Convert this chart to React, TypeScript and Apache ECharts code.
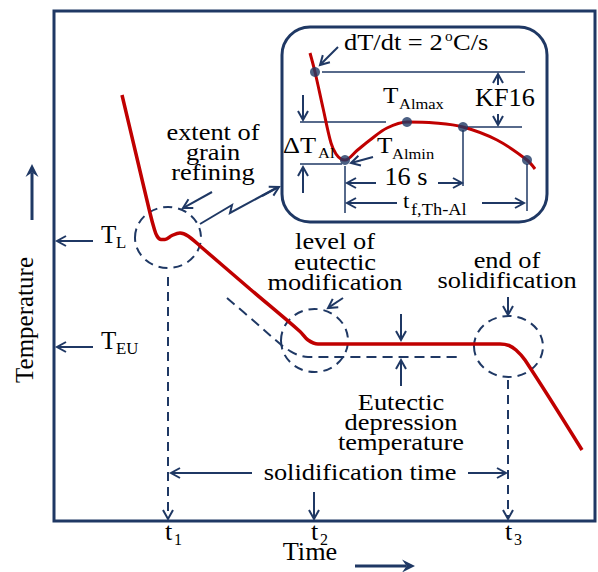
import React, { useEffect, useRef } from "react";
import * as echarts from "echarts";

const NAVY = "#1F3864";
const RED = "#C00000";
const INK = "#000000";
const FONT = "'Liberation Serif', 'Times New Roman', serif";

// Main cooling curve (arbitrary time / temperature units)
const curveTime = [68, 82, 96, 100, 103, 107, 111, 118, 126, 134, 146, 196, 246, 254, 264, 346, 446, 455, 462, 471, 528];
const curveTemp = [426, 367, 308, 293, 285, 281.5, 281.5, 285.5, 288, 285, 275, 232, 189.5, 181, 177, 177, 177, 175.5, 171, 161, 71];
// Eutectic depression (dashed) curve
const depressTime = [173, 201, 228, 236, 244, 254, 403];
const depressTemp = [223, 199, 175.5, 170, 166, 164, 164];
// Time ticks t1, t2, t3
const tickSubs = ["1", "2", "3"];
const tickTimes = [114, 260, 454];
// Temperature levels T_L, T_EU
const levelSubs = ["L", "EU"];
const levelTemps = [280, 174];
// Inset: thermal analysis detail
const insetTime = [28, 33, 41, 49, 54, 59, 63, 75, 88, 105, 125, 153, 181, 215, 245, 253];
const insetTemp = [169, 150, 114, 79, 68, 63, 62, 71.5, 82, 94, 100, 99, 95, 82, 62, 53];
const insetDotTime = [33, 63, 125, 181, 245];
const insetDotTemp = [150, 62, 100, 95, 62];

const zip = (a: number[], b: number[]) => a.map((v, i) => [v, b[i]]);

function arrowEls(x1: number, y1: number, x2: number, y2: number, w = 2, dash?: number[], head = 9, hw = 5) {
  const dx = x2 - x1, dy = y2 - y1;
  const len = Math.hypot(dx, dy);
  const ux = dx / len, uy = dy / len, px = -uy, py = ux;
  const bx = x2 - ux * head, by = y2 - uy * head;
  return [
    { type: "line", shape: { x1, y1, x2: x2 - ux, y2: y2 - uy }, style: { stroke: NAVY, lineWidth: w, lineDash: dash || null } },
    {
      type: "polyline",
      shape: { points: [[bx + px * hw, by + py * hw], [x2, y2], [bx - px * hw, by - py * hw]] },
      style: { stroke: NAVY, lineWidth: w, fill: "none" },
    },
  ];
}

function boldArrowEls(x1: number, y1: number, x2: number, y2: number) {
  const dx = x2 - x1, dy = y2 - y1;
  const len = Math.hypot(dx, dy);
  const ux = dx / len, uy = dy / len, px = -uy, py = ux;
  const head = 13, hw = 6.5;
  const bx = x2 - ux * head, by = y2 - uy * head;
  const nx = x2 - ux * head * 0.65, ny = y2 - uy * head * 0.65;
  return [
    { type: "line", shape: { x1, y1, x2: nx, y2: ny }, style: { stroke: NAVY, lineWidth: 3 } },
    {
      type: "polygon",
      shape: { points: [[x2, y2], [bx + px * hw, by + py * hw], [nx, ny], [bx - px * hw, by - py * hw]] },
      style: { fill: NAVY },
    },
  ];
}

function lineEl(x1: number, y1: number, x2: number, y2: number, w = 1.5) {
  return { type: "line", shape: { x1, y1, x2, y2 }, style: { stroke: NAVY, lineWidth: w } };
}

// y given as baseline
function txt(text: string, x: number, baseline: number, size: number, align = "center", sx = 1.1, rot = 0) {
  return {
    type: "text",
    x,
    y: rot ? baseline : baseline - 0.3375 * size,
    scaleX: sx,
    rotation: rot,
    z: 10,
    style: {
      text,
      x: 0,
      y: 0,
      fill: INK,
      fontSize: size,
      fontFamily: FONT,
      align,
      verticalAlign: "middle",
    },
  };
}

function ellipseEl(cx: number, cy: number, rx: number, ry: number) {
  return {
    type: "ellipse",
    shape: { cx, cy, rx, ry },
    style: { fill: "none", stroke: NAVY, lineWidth: 2, lineDash: [9, 6] },
  };
}

export default function App() {
  const ref = useRef<HTMLDivElement>(null);
  useEffect(() => {
    if (!ref.current) return;
    const chart = echarts.init(ref.current, null, { renderer: "svg" });
    chart.setOption({
      animation: false,
      backgroundColor: "#ffffff",
      grid: [
        { left: 54, top: 11, width: 541, height: 510, show: true, borderColor: NAVY, borderWidth: 3, backgroundColor: "transparent" },
        { left: 282, top: 27, width: 265, height: 195, show: false },
      ],
      xAxis: [
        { type: "value", gridIndex: 0, min: 0, max: 541, show: false },
        { type: "value", gridIndex: 1, min: 0, max: 265, show: false },
      ],
      yAxis: [
        { type: "value", gridIndex: 0, min: 0, max: 510, show: false },
        { type: "value", gridIndex: 1, min: 0, max: 195, show: false },
      ],
      series: [
        {
          type: "line",
          xAxisIndex: 0,
          yAxisIndex: 0,
          data: zip(curveTime, curveTemp),
          smooth: 0.35,
          symbol: "none",
          z: 5,
          lineStyle: { color: RED, width: 3.5 },
        },
        {
          type: "line",
          xAxisIndex: 0,
          yAxisIndex: 0,
          data: zip(depressTime, depressTemp),
          smooth: 0.35,
          symbol: "none",
          z: 4,
          lineStyle: { color: NAVY, width: 2, type: [10, 6] },
        },
        {
          type: "line",
          xAxisIndex: 1,
          yAxisIndex: 1,
          data: zip(insetTime, insetTemp),
          smooth: 0.35,
          symbol: "none",
          z: 5,
          lineStyle: { color: RED, width: 3 },
        },
        {
          type: "scatter",
          xAxisIndex: 1,
          yAxisIndex: 1,
          data: zip(insetDotTime, insetDotTemp),
          symbolSize: 10,
          z: 6,
          itemStyle: { color: NAVY },
        },
      ],
    });

    const toPx = (g: number, x: number, y: number) => chart.convertToPixel({ gridIndex: g }, [x, y]) as number[];
    const els: any[] = [];

    // inset frame
    els.push({ type: "rect", z: 0, shape: { x: 282, y: 27, width: 265, height: 195, r: 28 }, style: { fill: "#ffffff", stroke: NAVY, lineWidth: 3 } });

    // dashed circles
    els.push(ellipseEl(168, 237.5, 33, 30.5));
    els.push(ellipseEl(314.5, 340.5, 33.5, 31.5));
    els.push(ellipseEl(508.5, 346.5, 34.5, 30.5));

    // time ticks, drop lines and labels
    const startY = [277, 492, 380];
    const dashed = [true, false, true];
    const bottom = toPx(0, 0, 0)[1];
    tickTimes.forEach((t, i) => {
      const x = toPx(0, t, 0)[0];
      els.push(...arrowEls(x, startY[i], x, bottom - 2, 2, dashed[i] ? [9, 6] : undefined));
      els.push(txt("t", x - 3, 540, 25, "left", 1.05));
      els.push(txt(tickSubs[i], x + 6, 545, 16, "left", 1.0));
    });

    // temperature levels
    levelTemps.forEach((tv, i) => {
      const y = toPx(0, 0, tv)[1];
      els.push(...arrowEls(93, y, 57, y));
      els.push(txt("T", 101, y + 2, 25, "left", 1.0));
      els.push(txt(levelSubs[i], 116, y + 7, 16, "left", 1.05));
    });

    // axis titles
    els.push(txt("Temperature", 24, 320, 25, "center", 1.0, Math.PI / 2));
    els.push(...boldArrowEls(32, 220, 32, 164));
    els.push(txt("Time", 310, 560, 25, "center", 1.05));
    els.push(...boldArrowEls(355, 566, 415, 566));

    // annotations (main)
    els.push(txt("extent of", 213, 140, 24));
    els.push(txt("grain", 213, 160, 24));
    els.push(txt("refining", 213, 180, 24));
    els.push(...arrowEls(212, 192, 183, 208));
    // zig-zag link to inset
    els.push({ type: "polyline", shape: { points: [[200, 224], [232, 205], [230, 213], [278, 187]] }, style: { stroke: NAVY, lineWidth: 2, fill: "none" } });
    els.push(...arrowEls(262, 196, 279, 187));

    els.push(txt("level of", 335, 249, 24));
    els.push(txt("eutectic", 335, 270, 24));
    els.push(txt("modification", 335, 290, 24));
    els.push(...arrowEls(343, 298, 328, 308));

    els.push(txt("end of", 507, 268, 24));
    els.push(txt("solidification", 507, 288, 24));
    els.push(...arrowEls(508, 297, 508, 315));

    els.push(...arrowEls(401, 314, 401, 340));
    els.push(...arrowEls(401, 386, 401, 360));
    els.push(txt("Eutectic", 401, 410, 24));
    els.push(txt("depression", 401, 430, 24));
    els.push(txt("temperature", 401, 450, 24));

    els.push(txt("solidification time", 360, 480, 24));
    els.push(...arrowEls(252, 473, 171, 473));
    els.push(...arrowEls(468, 473, 506, 473));

    // inset annotations
    els.push(lineEl(322, 72, 525, 72));
    els.push(lineEl(300, 122, 386, 122));
    els.push(lineEl(467, 127, 522, 127));
    els.push(lineEl(300, 164, 342, 164));
    els.push(lineEl(345, 166, 345, 213));
    els.push(lineEl(463, 130, 463, 186));
    els.push(lineEl(527, 164, 527, 211));

    els.push(txt("dT/dt = 2", 344, 50, 23, "left", 1.15));
    els.push(txt("o", 445, 41, 14, "left", 1.1));
    els.push(txt("C/s", 453, 50, 23, "left", 1.15));
    els.push(...arrowEls(338, 47, 320, 65));

    els.push(txt("T", 383, 103, 24, "left", 1.05));
    els.push(txt("Almax", 399, 109, 15, "left", 1.1));

    els.push(txt("KF16", 475, 106, 25, "left", 1.05));
    els.push(...arrowEls(498, 85, 498, 74));
    els.push(...arrowEls(498, 114, 498, 125));

    els.push(txt("ΔT", 283, 153, 24, "left", 1.1));
    els.push(txt("Al", 318, 158, 15, "left", 1.1));
    els.push(...arrowEls(303, 95, 303, 120));
    els.push(...arrowEls(303, 193, 303, 167));

    els.push(txt("T", 377, 153, 24, "left", 1.05));
    els.push(txt("Almin", 392, 159, 15, "left", 1.1));
    els.push(...arrowEls(373, 157, 351, 163));

    els.push(txt("16 s", 406, 185, 25, "center", 1.05));
    els.push(...arrowEls(376, 183, 347, 183));
    els.push(...arrowEls(438, 183, 462, 183));

    els.push(txt("t", 403, 208, 22, "left", 1.05));
    els.push(txt("f,Th-Al", 411, 215, 16, "left", 1.15));
    els.push(...arrowEls(397, 203, 347, 203));
    els.push(...arrowEls(482, 203, 524, 203));

    chart.setOption({ graphic: { elements: els } });

    return () => chart.dispose();
  }, []);

  return (
    <div
      ref={ref}
      style={{ position: "absolute", left: 0, top: 0, width: 598, height: 572, background: "#fff" }}
    />
  );
}
